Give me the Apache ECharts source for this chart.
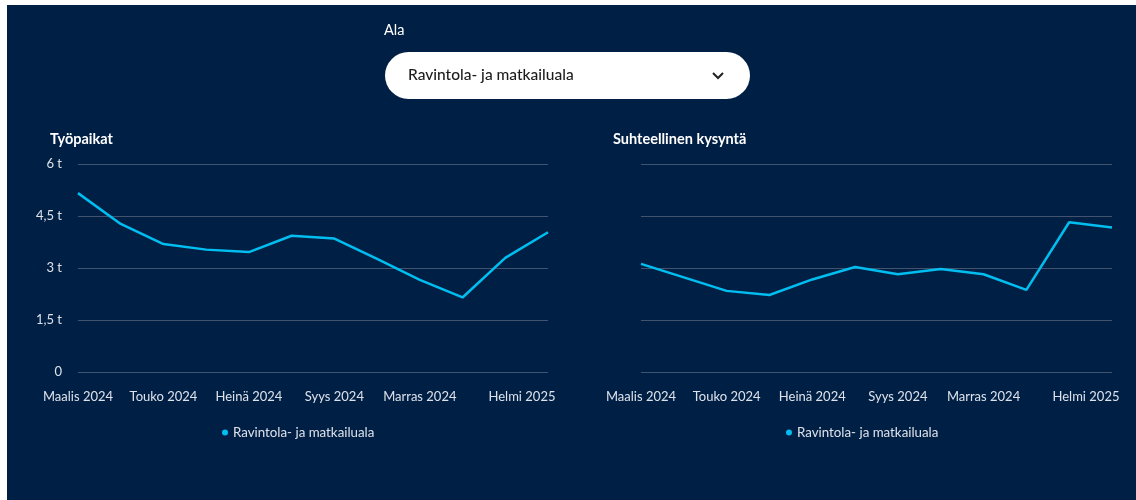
<!DOCTYPE html>
<html>
<head>
<meta charset="utf-8">
<script src="https://cdn.jsdelivr.net/npm/echarts@6/dist/echarts.min.js"></script>
<style>
html,body{margin:0;padding:0;background:#fff;}
#wrap{position:relative;width:1136px;height:500px;background:#fff;overflow:hidden;}
#panel{position:absolute;left:7px;top:5px;right:0;bottom:0;background:#001f45;}
#chart{position:absolute;left:0;top:0;width:1136px;height:500px;}
</style>
</head>
<body>
<div id="wrap"><div id="panel"></div><div id="chart"></div></div>
<script>
const categories = ['Maalis 2024','Huhti 2024','Touko 2024','Kesä 2024','Heinä 2024','Elo 2024','Syys 2024','Loka 2024','Marras 2024','Joulu 2024','Tammi 2025','Helmi 2025'];
const shownLabelIdx = [0, 2, 4, 6, 8, 11];
const seriesName = 'Ravintola- ja matkailuala';
const jobs = [5160, 4270, 3690, 3530, 3460, 3930, 3850, 3260, 2660, 2150, 3290, 4030];
const relDemand = [1.04, 0.91, 0.78, 0.74, 0.89, 1.01, 0.94, 0.99, 0.94, 0.79, 1.44, 1.39];
const chartTitles = ['Työpaikat', 'Suhteellinen kysyntä'];
const dropdownLabel = 'Ala';
const dropdownValue = 'Ravintola- ja matkailuala';

const FONT = 'Lato';
const LINE = '#00bef0';
const GRIDC = '#43536f';
const LBL = '#dde2ea';

function xAxisCfg(gridIndex){
  return {
    type:'category', gridIndex, data:categories, boundaryGap:false,
    axisLine:{show:false}, axisTick:{show:false},
    axisLabel:{
      color:LBL, fontFamily:FONT, fontSize:13, margin:18,
      interval:(i)=>shownLabelIdx.indexOf(i) >= 0,
      formatter:(v, i)=> i === categories.length-1 ? '{h|' + v + '}' : v,
      rich:{h:{color:LBL, fontFamily:FONT, fontSize:13, padding:[0,52,0,0]}}
    }
  };
}

const chart = echarts.init(document.getElementById('chart'), null, {renderer:'canvas'});
chart.setOption({
  backgroundColor:'transparent',
  animation:false,
  textStyle:{fontFamily:FONT},
  title:[
    {text:chartTitles[0], left:45, top:127, textStyle:{color:'#ffffff', fontSize:14.5, fontWeight:'bold', fontFamily:FONT}},
    {text:chartTitles[1], left:608, top:127, textStyle:{color:'#ffffff', fontSize:14.5, fontWeight:'bold', fontFamily:FONT}}
  ],
  grid:[
    {left:78, top:164, width:470, height:208},
    {left:641, top:164, width:471, height:208}
  ],
  xAxis:[xAxisCfg(0), xAxisCfg(1)],
  yAxis:[
    {type:'value', gridIndex:0, min:0, max:6000, interval:1500,
     axisLine:{show:false}, axisTick:{show:false},
     splitLine:{lineStyle:{color:GRIDC, width:1}},
     axisLabel:{color:LBL, fontFamily:FONT, fontSize:13, margin:16,
       formatter:(v)=> v === 0 ? '0' : String(v/1000).replace('.', ',') + ' t'}},
    {type:'value', gridIndex:1, min:0, max:2, interval:0.5,
     axisLine:{show:false}, axisTick:{show:false},
     splitLine:{lineStyle:{color:GRIDC, width:1}},
     axisLabel:{show:false}}
  ],
  legend:[
    {left:217, top:421, icon:'circle', itemWidth:6, itemHeight:6, data:[seriesName],
     textStyle:{color:LBL, fontSize:13.3, fontFamily:FONT}},
    {left:781, top:421, icon:'circle', itemWidth:6, itemHeight:6, data:[seriesName],
     textStyle:{color:LBL, fontSize:13.3, fontFamily:FONT}}
  ],
  series:[
    {name:seriesName, type:'line', xAxisIndex:0, yAxisIndex:0, data:jobs, showSymbol:false, symbol:'none',
     lineStyle:{color:LINE, width:2.5}, itemStyle:{color:LINE}},
    {name:seriesName, type:'line', xAxisIndex:1, yAxisIndex:1, data:relDemand, showSymbol:false, symbol:'none',
     lineStyle:{color:LINE, width:2.5}, itemStyle:{color:LINE}}
  ],
  graphic:[
    {type:'text', left:384, top:23, style:{text:dropdownLabel, fill:'#ffffff', font:'14.5px ' + FONT}},
    {type:'rect', shape:{x:385, y:52, width:365, height:47, r:23.5}, style:{fill:'#ffffff'}},
    {type:'text', left:408, top:67, style:{text:dropdownValue, fill:'#1c1c1c', font:'500 15.5px ' + FONT}},
    {type:'polyline', shape:{points:[[713,73],[718,78],[723,73]]}, style:{stroke:'#222', lineWidth:2, fill:null}}
  ]
});
</script>
</body>
</html>
